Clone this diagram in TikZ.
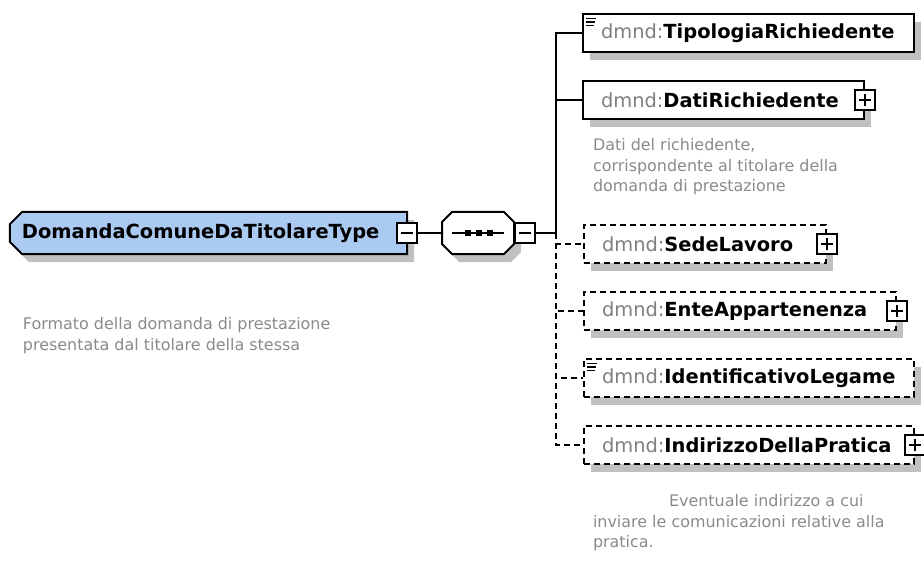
\documentclass[tikz,border=0pt]{standalone}
\usepackage{fontspec}
\setmainfont{DejaVu Sans}
\usetikzlibrary{positioning, shadows, backgrounds}

\definecolor{typeblue}{RGB}{170,202,242}
\definecolor{shadowgray}{RGB}{192,192,192}
\definecolor{nsgray}{RGB}{128,128,128}
\definecolor{notegray}{RGB}{138,138,138}

\newcommand{\elname}[1]{{\color{nsgray}dmnd:}\textbf{#1}}

\begin{document}
\begin{tikzpicture}[
    x=1bp, y=-1bp,
    line width=2bp,
    every node/.style={font=\fontsize{19.5}{22}\selectfont},
    castshadow/.style={drop shadow={shadow xshift=7bp, shadow yshift=-8bp, fill=shadowgray, opacity=1, draw=none}},
    typebox/.style={rectangle, minimum height=40bp, inner xsep=11bp, inner ysep=0bp, text width=373bp, align=left, font=\fontsize{19.5}{22}\selectfont\bfseries},
    seqbox/.style={rectangle, minimum width=70bp, minimum height=40bp, inner sep=0bp},
    outline/.style={draw, line width=2bp, castshadow},
    elem/.style={rectangle, draw, fill=white, castshadow, minimum height=38bp, inner xsep=18bp, inner ysep=0bp, text width=#1, align=left},
    opt/.style={dash pattern=on 6bp off 4bp},
    plusbox/.style={rectangle, draw, fill=white, minimum size=20bp, inner sep=0bp, solid,
        path picture={\draw ([xshift=4bp]path picture bounding box.west) -- ([xshift=-4bp]path picture bounding box.east)
            ([yshift=-4bp]path picture bounding box.north) -- ([yshift=4bp]path picture bounding box.south);}},
    minusbox/.style={rectangle, draw, fill=white, minimum size=20bp, inner sep=0bp,
        path picture={\draw ([xshift=4bp]path picture bounding box.west) -- ([xshift=-4bp]path picture bounding box.east);}},
    facets/.style={path picture={\draw[line width=1.4bp, solid] ([shift={(3,4.5)}]path picture bounding box.north west) -- ++(10,0) ++(-10,3.5) -- ++(9,0) ++(-9,3.5) -- ++(8,0);}},
    note/.style={font=\fontsize{16}{21}\selectfont, text=notegray, align=left, inner sep=0bp}
]
\useasboundingbox (0,0) rectangle (924,572);

% Complex type and its sequence
\node[typebox] (dtype) at (208.5,233) {DomandaComuneDaTitolareType};
\node[minusbox] (typeminus) at (dtype.east) {};
\node[note, below right=62bp and 12bp of dtype.south west] (typenote) {Formato della domanda di prestazione\\presentata dal titolare della stessa};

\node[seqbox] (seq) at (478,233) {};
\node[minusbox, right=0bp of seq] (seqminus) {};
\coordinate[right=20bp of seqminus.east] (fork);
\draw ([xshift=10bp]seq.west) -- ([xshift=-10bp]seq.east);
\foreach \dx in {26,37,48}
    \fill ([xshift=\dx bp]seq.west) +(-3,-3) rectangle +(3,3);

\begin{scope}[on background layer]
    \path[outline, fill=typeblue] ([xshift=12bp]dtype.north west) -- (dtype.north east) -- (dtype.south east)
        -- ([xshift=12bp]dtype.south west) -- ([yshift=12bp]dtype.south west) -- ([yshift=-12bp]dtype.north west) -- cycle;
    \path[outline, fill=white] ([xshift=10bp]seq.north west) -- ([xshift=-10bp]seq.north east) -- ([yshift=-10bp]seq.north east)
        -- ([yshift=10bp]seq.south east) -- ([xshift=-10bp]seq.south east) -- ([xshift=10bp]seq.south west)
        -- ([yshift=10bp]seq.south west) -- ([yshift=-10bp]seq.north west) -- cycle;
\end{scope}

% Child elements
\node[elem=295bp, facets, anchor=north west] (tipo) at (582,13) {\elname{TipologiaRichiedente}};
\node[elem=245bp, below right=27bp and 0bp of tipo.south west] (dati) {\elname{DatiRichiedente}};
\node[plusbox] (datiplus) at (dati.east) {};
\node[note, below right=17bp and 10bp of dati.south west] (datinote) {Dati del richiedente,\\corrispondente al titolare della\\domanda di prestazione};

\node[elem=206bp, opt, below right=104bp and 1bp of dati.south west] (sede) {\elname{SedeLavoro}};
\node[plusbox] (sedeplus) at (sede.east) {};
\node[elem=276bp, opt, below right=27bp and 0bp of sede.south west] (ente) {\elname{EnteAppartenenza}};
\node[plusbox] (enteplus) at (ente.east) {};
\node[elem=294bp, opt, facets, below right=27bp and 0bp of ente.south west] (ident) {\elname{IdentificativoLegame}};
\node[elem=294bp, opt, below right=27bp and 0bp of ident.south west] (indir) {\elname{IndirizzoDellaPratica}};
\node[plusbox] (indirplus) at (indir.east) {};
\node[note, below right=28bp and 9bp of indir.south west] (indirnote) {\hspace*{76bp}Eventuale indirizzo a cui\\inviare le comunicazioni relative alla\\pratica.};

% Connectors
\draw (typeminus) -- (seq);
\draw (seqminus) -- (fork);
\draw (fork) |- (tipo);
\draw (fork) |- (dati);
\draw[opt] (fork) |- (sede);
\draw[opt] (fork) |- (ente);
\draw[opt] (fork) |- (ident);
\draw[opt] (fork) |- (indir);

\end{tikzpicture}
\end{document}
